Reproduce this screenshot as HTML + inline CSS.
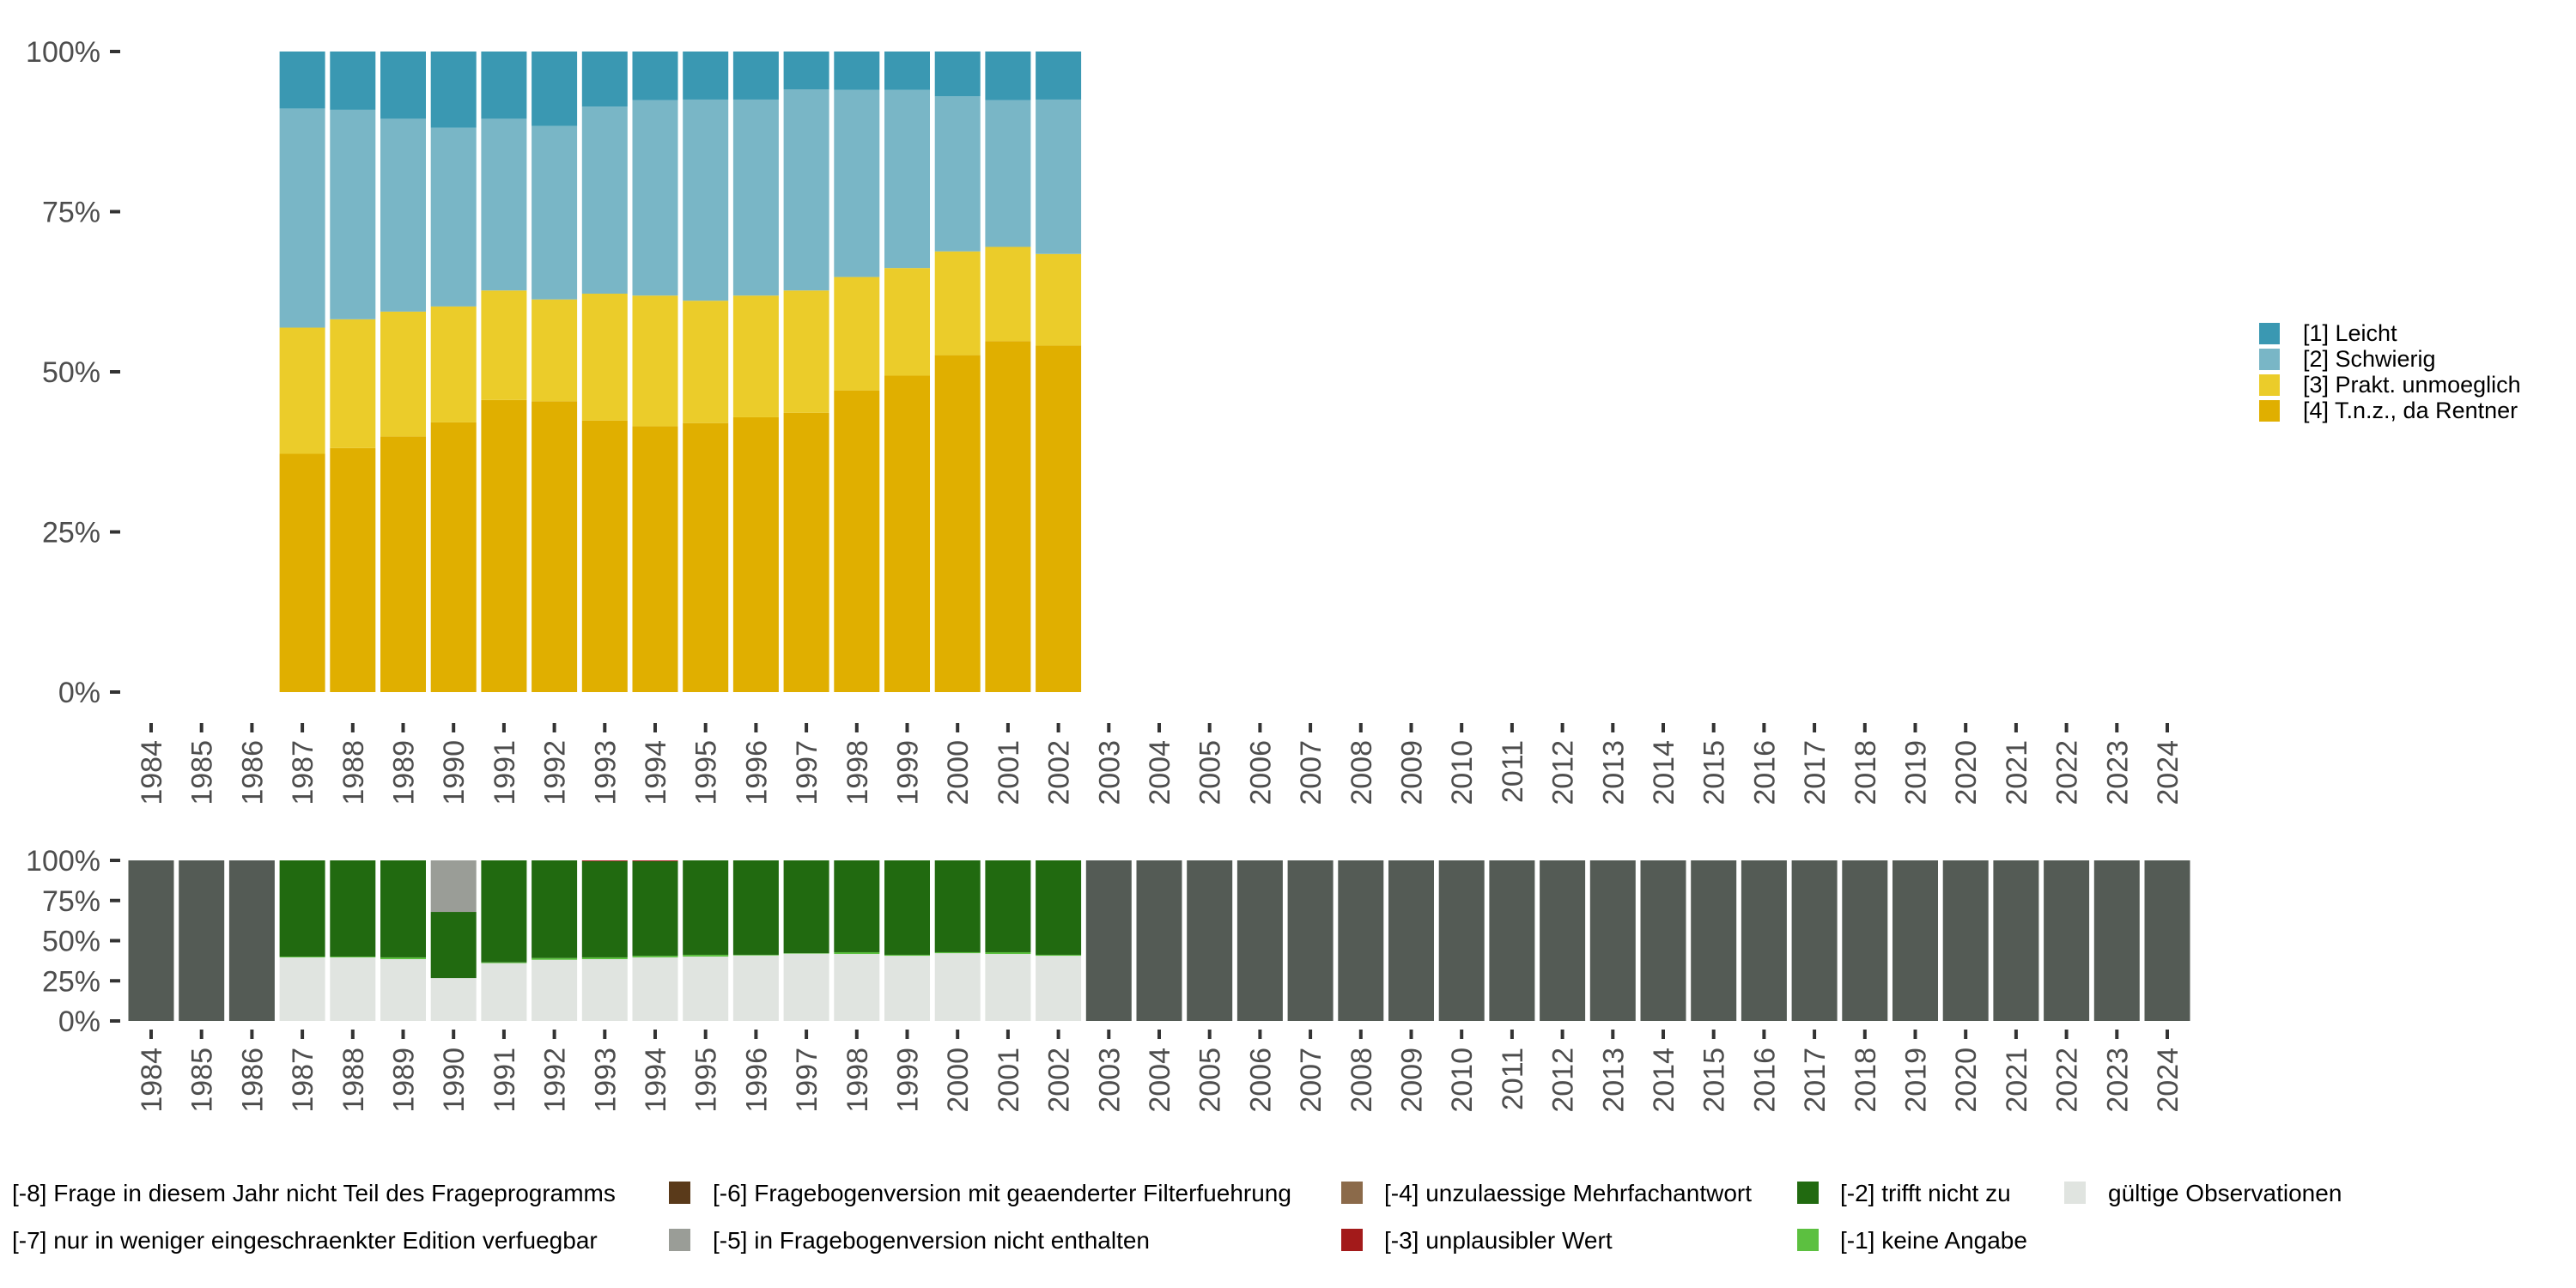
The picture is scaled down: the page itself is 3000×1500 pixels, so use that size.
<!DOCTYPE html>
<html><head><meta charset="utf-8">
<style>
html,body{margin:0;padding:0;background:#fff;width:3000px;height:1500px;overflow:hidden}
svg{display:block;font-family:"Liberation Sans",sans-serif}
</style></head>
<body>
<svg id="chart" width="3000" height="1500" xmlns="http://www.w3.org/2000/svg">
<g id="top"></g>
<g id="bot"></g>
<g id="legR"></g>
<g id="legB"></g>
</svg>
<script>
const years = [];
for (let y = 1984; y <= 2024; y++) years.push(y);
const topYears = [1987,1988,1989,1990,1991,1992,1993,1994,1995,1996,1997,1998,1999,2000,2001,2002];
const s4 = [37.2,38.1,39.9,42.1,45.6,45.4,42.4,41.5,42.0,42.9,43.6,47.1,49.4,52.6,54.8,54.1];
const s3 = [19.7,20.1,19.5,18.1,17.1,15.9,19.8,20.4,19.1,19.0,19.1,17.7,16.8,16.2,14.7,14.3];
const s2 = [34.2,32.7,30.1,27.9,26.8,27.1,29.2,30.5,31.4,30.6,31.4,29.2,27.8,24.2,22.9,24.1];
const s1 = [8.9,9.1,10.5,11.9,10.5,11.6,8.6,7.6,7.5,7.5,5.9,6.0,6.0,7.0,7.6,7.5];
const valid = [39.6,39.6,38.5,26.7,36.0,38.1,38.5,39.6,40.1,40.8,41.9,41.7,40.6,42.2,41.7,40.6];
const noAns = [0.5,0.5,1.1,0,0.5,1.1,1.1,1.0,1.1,0.4,0.3,1.1,0.6,0.6,1.1,0.6];
const notNotTrue = [59.9,59.9,60.4,41.2,63.5,60.8,59.9,58.9,58.8,58.8,57.8,57.2,58.8,57.2,57.2,58.8];
const implaus = [0,0,0,0,0,0,0.5,0.5,0,0,0,0,0,0,0,0];
const notInVersion = [0,0,0,32.1,0,0,0,0,0,0,0,0,0,0,0,0];
const yTicks = [0,25,50,75,100];
const yTickLabels = ["0%","25%","50%","75%","100%"];

const NS = "http://www.w3.org/2000/svg";
function mk(parent, tag, attrs, text){
  const e = document.createElementNS(NS, tag);
  for (const k in attrs) e.setAttribute(k, attrs[k]);
  if (text !== undefined) e.textContent = text;
  parent.appendChild(e); return e;
}
const X0 = 176, PITCH = 58.7, BW = 53;
function xc(year){ return X0 + (year - 1984) * PITCH; }
function yTop(v){ return 806 - v * (806 - 60) / 100; }
function yBot(v){ return 1189 - v * (1189 - 1002) / 100; }

function axes(g, yf, tickY0, labelY, nameP){
  yTicks.forEach((t,i)=>{
    const tk = mk(g,'rect',{x:128,y:yf(t)-2,width:12,height:4,fill:'#333'});
    
    
    const lb = mk(g,'text',{x:117,y:yf(t)+12,'text-anchor':'end','font-size':34,fill:'#4d4d4d'}, yTickLabels[i]);
    
    
  });
  years.forEach(yr=>{
    const tk = mk(g,'rect',{x:xc(yr)-2,y:tickY0,width:4,height:11,fill:'#333'});
    
    
    const lb = mk(g,'text',{transform:`translate(${xc(yr)+12},${labelY}) rotate(-90)`,'text-anchor':'end','font-size':34,fill:'#4d4d4d'}, String(yr));
    
    
  });
}

// top chart
const gt = document.getElementById('top');
const topSeries = [[s4,'#e0af00','t-n-z'],[s3,'#ebcc2a','prakt-unmoeglich'],[s2,'#79b6c6','schwierig'],[s1,'#3a98b2','leicht']];
topYears.forEach((yr,i)=>{
  let cum = 0;
  topSeries.forEach(([arr,col,nm])=>{
    const v = (nm==='leicht') ? 100 - cum : arr[i];
    const r = mk(gt,'rect',{x:xc(yr)-BW/2,y:yTop(cum+v),width:BW,height:yTop(cum)-yTop(cum+v),fill:col});
    
    
    cum += v;
  });
});
axes(gt, yTop, 842, 862, 'top');

// bottom chart
const gb = document.getElementById('bot');
years.forEach(yr=>{
  const i = topYears.indexOf(yr);
  if (i < 0){
    const r = mk(gb,'rect',{x:xc(yr)-BW/2,y:yBot(100),width:BW,height:yBot(0)-yBot(100),fill:'#545b55'});
    
    
    return;
  }
  const parts = [[valid,'#e0e4e0','valid'],[noAns,'#5cc040','no-answer'],[notNotTrue,'#216a10','not-true'],[implaus,'#a31a1a','implausible'],[notInVersion,'#9a9d97','not-in-version']];
  let cum = 0;
  parts.forEach(([arr,col,nm])=>{
    const v = arr[i];
    if (v <= 0) return;
    const r = mk(gb,'rect',{x:xc(yr)-BW/2,y:yBot(cum+v),width:BW,height:yBot(cum)-yBot(cum+v),fill:col});
    
    
    cum += v;
  });
});
axes(gb, yBot, 1199, 1220, 'bottom');

// right legend
const gr = document.getElementById('legR');
[['[1] Leicht','#3a98b2'],['[2] Schwierig','#79b6c6'],['[3] Prakt. unmoeglich','#ebcc2a'],['[4] T.n.z., da Rentner','#e0af00']].forEach(([t,c],k)=>{
  const y = 376 + k*30;
  const sw = mk(gr,'rect',{x:2631,y:y,width:24,height:25,fill:c});
  
  
  const tx = mk(gr,'text',{x:2682,y:y+21,'font-size':27,fill:'#000'},t);
  
  
});

// bottom legend
const gl = document.getElementById('legB');
const bl = [
  [14,1389,null,'[-8] Frage in diesem Jahr nicht Teil des Frageprogramms','#545b55'],
  [830,1389,779,'[-6] Fragebogenversion mit geaenderter Filterfuehrung','#5a3a1a'],
  [1612,1389,1562,'[-4] unzulaessige Mehrfachantwort','#8b6a4a'],
  [2143,1389,2093,'[-2] trifft nicht zu','#216a10'],
  [2455,1389,2404,'gültige Observationen','#e0e4e0'],
  [14,1444,null,'[-7] nur in weniger eingeschraenkter Edition verfuegbar','#999c96'],
  [830,1444,779,'[-5] in Fragebogenversion nicht enthalten','#9a9d97'],
  [1612,1444,1562,'[-3] unplausibler Wert','#a31a1a'],
  [2143,1444,2093,'[-1] keine Angabe','#5cc040']
];
bl.forEach(([tx,ty,sx,t,c])=>{
  if (sx !== null){
    const sw = mk(gl,'rect',{x:sx,y:ty-13,width:25,height:26,fill:c});
    
    
  }
  const e = mk(gl,'text',{x:tx,y:ty+10,'font-size':28,fill:'#000'},t);
  
  
});
// swatches for first-column entries sit left of column-2 text positions in reference
[[1389,'#5a3a1a'],[1444,'#999c96']].forEach(()=>{});
</script>
</body></html>
